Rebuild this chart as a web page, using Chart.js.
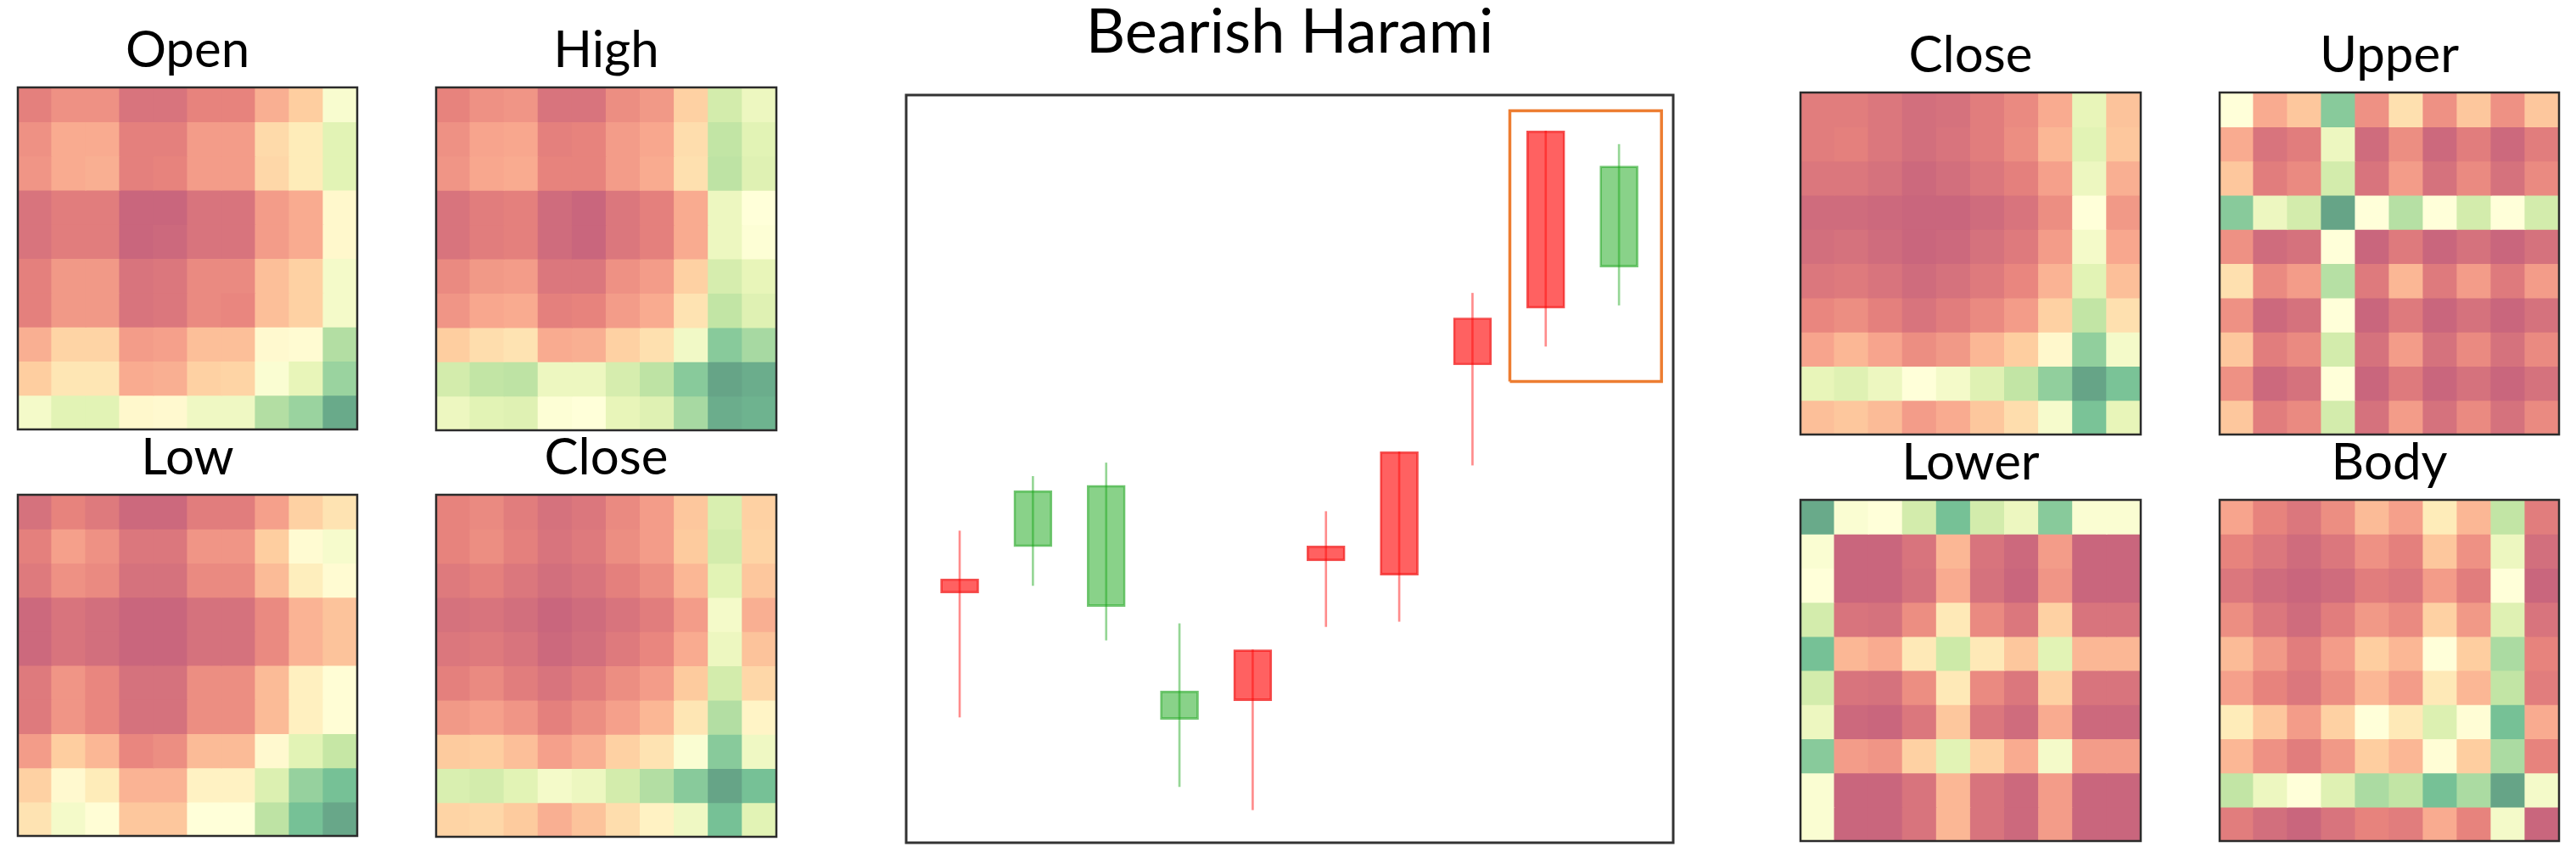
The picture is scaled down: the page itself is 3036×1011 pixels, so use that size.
<!DOCTYPE html>
<html><head><meta charset="utf-8">
<script src="https://cdn.jsdelivr.net/npm/chart.js@4.4.1/dist/chart.umd.min.js"></script>
<style>
html,body{margin:0;padding:0;background:#fff;width:3036px;height:1011px;overflow:hidden;}
canvas{position:absolute;}
</style></head><body>
<script>
// ---------------- DATA ----------------
const gridIndex = ['0','1','2','3','4','5','6','7','8','9'];

const openGAF = [
[0.09,0.14,0.14,0.05,0.05,0.10,0.10,0.22,0.30,0.53],
[0.14,0.21,0.21,0.09,0.09,0.17,0.17,0.34,0.40,0.62],
[0.15,0.21,0.22,0.09,0.10,0.17,0.17,0.33,0.40,0.62],
[0.05,0.08,0.08,0.00,0.00,0.05,0.05,0.17,0.21,0.46],
[0.05,0.08,0.08,0.00,0.01,0.05,0.05,0.17,0.21,0.46],
[0.09,0.16,0.16,0.05,0.06,0.12,0.12,0.26,0.31,0.55],
[0.09,0.16,0.16,0.05,0.06,0.12,0.11,0.26,0.31,0.55],
[0.22,0.32,0.32,0.17,0.18,0.26,0.26,0.47,0.48,0.76],
[0.30,0.38,0.38,0.21,0.22,0.31,0.32,0.52,0.60,0.82],
[0.55,0.62,0.62,0.46,0.47,0.57,0.57,0.76,0.82,0.98]];

const highGAF = [
[0.10,0.14,0.15,0.05,0.05,0.13,0.16,0.31,0.67,0.58],
[0.14,0.19,0.20,0.09,0.10,0.17,0.20,0.35,0.72,0.62],
[0.15,0.20,0.21,0.10,0.10,0.17,0.21,0.36,0.73,0.63],
[0.05,0.08,0.09,0.02,0.00,0.06,0.09,0.21,0.58,0.50],
[0.05,0.08,0.09,0.02,0.00,0.06,0.09,0.21,0.58,0.51],
[0.12,0.16,0.17,0.06,0.06,0.14,0.17,0.31,0.66,0.60],
[0.15,0.20,0.21,0.09,0.10,0.17,0.21,0.37,0.72,0.63],
[0.30,0.35,0.37,0.21,0.22,0.31,0.36,0.56,0.86,0.79],
[0.67,0.72,0.73,0.58,0.58,0.66,0.73,0.86,1.00,0.97],
[0.58,0.62,0.63,0.51,0.50,0.60,0.63,0.79,0.97,0.95]];

const lowGAF = [
[0.04,0.10,0.07,0.01,0.01,0.08,0.08,0.18,0.31,0.37],
[0.09,0.18,0.14,0.06,0.06,0.15,0.15,0.30,0.48,0.54],
[0.07,0.14,0.12,0.04,0.04,0.12,0.12,0.25,0.41,0.48],
[0.01,0.05,0.03,0.00,0.00,0.04,0.04,0.12,0.23,0.27],
[0.01,0.05,0.03,0.00,0.00,0.04,0.04,0.12,0.23,0.27],
[0.07,0.15,0.11,0.04,0.04,0.13,0.13,0.25,0.42,0.49],
[0.07,0.15,0.11,0.04,0.04,0.13,0.13,0.25,0.42,0.49],
[0.17,0.30,0.24,0.11,0.13,0.25,0.25,0.47,0.62,0.71],
[0.31,0.47,0.40,0.23,0.23,0.43,0.43,0.64,0.83,0.90],
[0.37,0.55,0.49,0.28,0.28,0.50,0.50,0.73,0.90,0.99]];

const closeLeftGAF = [
[0.10,0.12,0.08,0.04,0.06,0.12,0.17,0.28,0.65,0.31],
[0.10,0.13,0.09,0.05,0.07,0.13,0.17,0.29,0.67,0.32],
[0.07,0.09,0.06,0.03,0.05,0.09,0.13,0.24,0.62,0.28],
[0.04,0.05,0.03,0.00,0.02,0.05,0.08,0.17,0.55,0.22],
[0.06,0.07,0.05,0.01,0.03,0.07,0.11,0.21,0.58,0.27],
[0.09,0.12,0.08,0.05,0.08,0.13,0.17,0.29,0.67,0.33],
[0.16,0.18,0.15,0.09,0.13,0.18,0.24,0.38,0.76,0.44],
[0.29,0.30,0.26,0.18,0.22,0.31,0.37,0.52,0.86,0.57],
[0.65,0.67,0.62,0.55,0.58,0.67,0.76,0.86,1.00,0.90],
[0.32,0.33,0.29,0.22,0.27,0.35,0.43,0.57,0.90,0.62]];

const closeRightGAF = [
[0.08,0.08,0.06,0.03,0.04,0.08,0.12,0.21,0.60,0.27],
[0.08,0.09,0.06,0.03,0.05,0.08,0.13,0.24,0.62,0.28],
[0.06,0.06,0.04,0.01,0.03,0.06,0.09,0.18,0.58,0.22],
[0.02,0.02,0.01,0.00,0.00,0.02,0.05,0.13,0.50,0.16],
[0.03,0.04,0.02,0.00,0.01,0.04,0.07,0.17,0.55,0.20],
[0.06,0.07,0.05,0.02,0.04,0.07,0.11,0.23,0.62,0.26],
[0.11,0.13,0.09,0.05,0.08,0.12,0.17,0.31,0.72,0.36],
[0.19,0.24,0.19,0.13,0.16,0.24,0.30,0.46,0.84,0.55],
[0.60,0.63,0.58,0.50,0.55,0.63,0.72,0.84,1.00,0.89],
[0.26,0.28,0.25,0.17,0.21,0.28,0.35,0.54,0.89,0.60]];

const upperGAF = [
[0.50,0.21,0.28,0.86,0.14,0.36,0.14,0.28,0.14,0.28],
[0.21,0.05,0.08,0.58,0.02,0.13,0.01,0.08,0.01,0.08],
[0.28,0.08,0.12,0.67,0.05,0.17,0.04,0.12,0.04,0.12],
[0.86,0.58,0.67,1.00,0.50,0.75,0.50,0.67,0.50,0.67],
[0.14,0.02,0.04,0.50,0.00,0.07,0.00,0.04,0.00,0.04],
[0.36,0.12,0.17,0.75,0.07,0.24,0.07,0.17,0.07,0.17],
[0.14,0.01,0.04,0.50,0.00,0.07,0.00,0.04,0.00,0.04],
[0.28,0.08,0.12,0.67,0.04,0.17,0.04,0.12,0.04,0.12],
[0.14,0.01,0.04,0.50,0.00,0.07,0.00,0.04,0.00,0.04],
[0.28,0.08,0.12,0.67,0.04,0.17,0.04,0.12,0.04,0.12]];

const lowerGAF = [
[0.98,0.52,0.50,0.67,0.90,0.67,0.58,0.86,0.52,0.52],
[0.52,0.00,0.00,0.05,0.24,0.05,0.01,0.17,0.00,0.00],
[0.50,0.00,0.00,0.04,0.21,0.04,0.00,0.15,0.00,0.00],
[0.67,0.05,0.04,0.13,0.39,0.12,0.06,0.31,0.05,0.05],
[0.90,0.24,0.21,0.39,0.69,0.39,0.28,0.62,0.24,0.24],
[0.67,0.05,0.04,0.13,0.39,0.12,0.06,0.31,0.05,0.05],
[0.58,0.01,0.00,0.06,0.28,0.06,0.02,0.21,0.01,0.01],
[0.86,0.17,0.15,0.31,0.62,0.31,0.21,0.55,0.17,0.17],
[0.52,0.00,0.00,0.05,0.24,0.05,0.01,0.17,0.00,0.00],
[0.52,0.00,0.00,0.05,0.24,0.05,0.01,0.17,0.00,0.00]];

const bodyGAF = [
[0.19,0.10,0.06,0.13,0.25,0.18,0.40,0.24,0.72,0.08],
[0.10,0.06,0.02,0.06,0.14,0.09,0.28,0.14,0.58,0.03],
[0.06,0.02,0.00,0.02,0.08,0.06,0.17,0.08,0.50,0.00],
[0.13,0.06,0.02,0.08,0.16,0.12,0.31,0.16,0.63,0.05],
[0.25,0.16,0.08,0.17,0.30,0.24,0.50,0.30,0.78,0.10],
[0.18,0.10,0.06,0.13,0.24,0.17,0.39,0.24,0.72,0.08],
[0.40,0.28,0.17,0.31,0.50,0.39,0.64,0.49,0.90,0.21],
[0.24,0.14,0.08,0.16,0.30,0.24,0.49,0.30,0.78,0.10],
[0.72,0.58,0.50,0.63,0.78,0.72,0.90,0.78,1.00,0.55],
[0.08,0.03,0.00,0.05,0.10,0.08,0.21,0.10,0.55,0.00]];

// candlestick series (price units, 0 = bottom of frame, 100 = top)
const candleIndex = [0,1,2,3,4,5,6,7,8,9];
const openP  = [35.3, 39.6, 31.6, 16.5, 25.8, 39.7, 52.3, 70.2, 95.2, 77.0];
const highP  = [41.7, 49.0, 50.8, 29.3, 25.8, 44.3, 52.3, 73.5, 95.2, 93.4];
const lowP   = [16.8, 34.4, 27.1,  7.5,  4.4, 28.9, 29.6, 50.5, 66.4, 71.9];
const closeP = [33.4, 47.1, 47.8, 20.3, 19.0, 37.7, 35.8, 63.9, 71.5, 90.5];
// highlighted Bearish Harami pattern (index range, price range)
const haramiX = [7.51, 9.58];
const haramiY = [61.7, 97.9];

// ---------------- STYLE / LAYOUT ----------------
const FONT = 'Lato';
const STOPS = ['#a50026','#d73027','#f46d43','#fdae61','#fee08b','#ffffbf','#d9ef8b','#a6d96a','#66bd63','#1a9850','#006837'];
function hex(h){return [1,3,5].map(i=>parseInt(h.substr(i,2),16));}
function cmap(v){
  v=Math.max(0,Math.min(1,v)); const p=v*10; const i=Math.min(9,Math.floor(p)); const t=p-i;
  const a=hex(STOPS[i]), b=hex(STOPS[i+1]); const alpha=0.6;
  const c=a.map((x,k)=>Math.round(alpha*(x+(b[k]-x)*t)+(1-alpha)*255));
  return 'rgb('+c.join(',')+')';
}
const framePlugin = {
  id:'frame',
  afterDraw(chart,args,opts){
    const a=chart.chartArea, ctx=chart.ctx;
    ctx.save(); ctx.strokeStyle=opts.color||'#333'; ctx.lineWidth=opts.width||2.5;
    ctx.strokeRect(a.left,a.top,a.right-a.left,a.bottom-a.top); ctx.restore();
  }
};
Chart.defaults.font.family = FONT;
Chart.defaults.animation = false;

function makeCanvas(left, top, w, h){
  const c=document.createElement('canvas');
  c.width=w; c.height=h; c.style.left=left+'px'; c.style.top=top+'px';
  c.style.width=w+'px'; c.style.height=h+'px';
  document.body.appendChild(c); return c;
}

const TSIZE=60, TPB=7, TBLOCK=TSIZE*1.2+TPB;
function heatmap(title, matrix, box){
  const [x0,y0,x1,y1]=box;
  const cv=makeCanvas(x0-3, y0-TBLOCK, (x1-x0)+6, (y1-y0)+TBLOCK+3);
  const datasets=matrix.map((row,r)=>({
    label:'row '+r,
    data:row.map(()=>1),
    backgroundColor:row.map(v=>cmap(v)),
    borderWidth:0, categoryPercentage:1, barPercentage:1, inflateAmount:0.6
  }));
  new Chart(cv,{type:'bar',data:{labels:gridIndex,datasets},
    plugins:[framePlugin],
    options:{responsive:false,devicePixelRatio:1,animation:false,
      layout:{padding:{left:3,right:3,top:0,bottom:3}},
      scales:{x:{display:false,stacked:true},y:{display:false,stacked:true,min:0,max:10,reverse:true}},
      plugins:{legend:{display:false},tooltip:{enabled:false},
        frame:{color:'#2b2b2b',width:2.5},
        title:{display:true,text:title,color:'#000',font:{family:FONT,size:TSIZE,weight:'normal'},padding:{top:0,bottom:TPB}}}}});
}

heatmap('Open',  openGAF,       [21,103,421,506]);
heatmap('High',  highGAF,       [514,103,915,507]);
heatmap('Low',   lowGAF,        [21,583,421,985]);
heatmap('Close', closeLeftGAF,  [514,583,915,986]);
heatmap('Close', closeRightGAF, [2122,109,2523,512]);
heatmap('Upper', upperGAF,      [2616,109,3016,512]);
heatmap('Lower', lowerGAF,      [2122,589,2523,991]);
heatmap('Body',  bodyGAF,       [2616,589,3016,991]);

// ---------------- CANDLESTICK ----------------
(function(){
  const MS=72, MPB=29.6, top=-4;
  const cv=makeCanvas(1065, top, 1972-1068+6, 993-top+3);
  const up=candleIndex.map(i=>closeP[i]>=openP[i]);
  const wickData=candleIndex.map(i=>({x:i,y:[lowP[i],highP[i]]}));
  const bodyData=candleIndex.map(i=>({x:i,y:[Math.min(openP[i],closeP[i]),Math.max(openP[i],closeP[i])]}));
  const rect=[{x:haramiX[0],y:haramiY[0]},{x:haramiX[0],y:haramiY[1]},{x:haramiX[1],y:haramiY[1]},{x:haramiX[1],y:haramiY[0]},{x:haramiX[0],y:haramiY[0]}];
  new Chart(cv,{
    data:{datasets:[
      {type:'line',label:'Bearish Harami',data:rect,borderColor:'#ED7D31',borderWidth:3.5,pointRadius:0,fill:false,tension:0,borderJoinStyle:'miter',order:0},
      {type:'bar',label:'wick',data:wickData,grouped:false,barThickness:2,
        backgroundColor:up.map(u=>u?'rgba(20,165,20,0.45)':'rgba(255,0,0,0.45)'),borderWidth:0,order:1},
      {type:'bar',label:'body',data:bodyData,grouped:false,barThickness:45,
        backgroundColor:up.map(u=>u?'rgba(20,165,20,0.5)':'rgba(255,0,0,0.62)'),
        borderColor:up.map(u=>u?'rgba(20,160,20,0.6)':'rgba(240,20,20,0.75)'),
        borderWidth:2,borderSkipped:false,order:2}
    ]},
    plugins:[framePlugin],
    options:{responsive:false,devicePixelRatio:1,animation:false,
      layout:{padding:{left:3,right:3,top:0,bottom:3}},
      scales:{x:{type:'linear',display:false,offset:false,min:-0.73,max:9.74},
              y:{type:'linear',display:false,min:0,max:100}},
      plugins:{legend:{display:false},tooltip:{enabled:false},
        frame:{color:'#333',width:3},
        title:{display:true,text:'Bearish Harami',color:'#000',font:{family:FONT,size:MS,weight:'normal'},padding:{top:0,bottom:MPB}}}}
  });
})();
</script>
</body></html>
